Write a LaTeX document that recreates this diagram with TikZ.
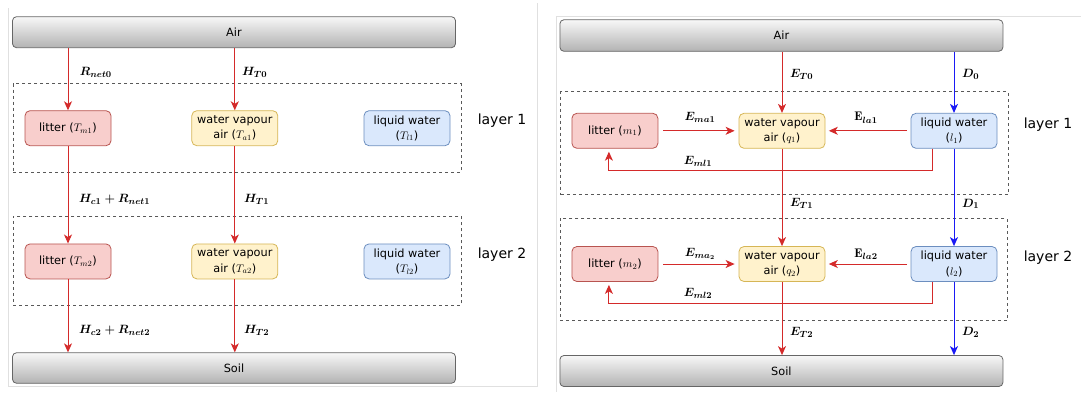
\documentclass[tikz,border=0pt]{standalone}
\usepackage{amsmath}
\usepackage{fontspec}
\usepackage{tikz}
\usetikzlibrary{arrows.meta}
\usetikzlibrary{positioning}
\newfontfamily\boxfont{DejaVu Sans}
\definecolor{litterfill}{HTML}{F8CECC}
\definecolor{litterline}{HTML}{B85450}
\definecolor{vapourfill}{HTML}{FFF2CC}
\definecolor{vapourline}{HTML}{D6B656}
\definecolor{liquidfill}{HTML}{DAE8FC}
\definecolor{liquidline}{HTML}{6C8EBF}
\definecolor{fluxred}{HTML}{D42A2A}
\definecolor{dripblue}{HTML}{1A1AF5}
\tikzstyle{cell}=[rectangle, rounded corners=5pt, line width=0.8pt, align=center, inner sep=0pt,
    minimum width=86pt, minimum height=35pt, font=\boxfont\fontsize{11.3}{15.2}\selectfont]
\tikzstyle{litterbox}=[cell, fill=litterfill, draw=litterline]
\tikzstyle{vapourbox}=[cell, fill=vapourfill, draw=vapourline]
\tikzstyle{liquidbox}=[cell, fill=liquidfill, draw=liquidline]
\tikzstyle{groundbox}=[rectangle, rounded corners=4pt, draw=black!60, line width=0.8pt,
    top color=black!3, bottom color=black!30, minimum width=443pt, minimum height=31pt,
    font=\boxfont\fontsize{11.3}{13}\selectfont]
\tikzstyle{layerbox}=[rectangle, draw=black!65, dash pattern=on 3pt off 3pt, line width=0.8pt]
\tikzstyle{layertag}=[font=\boxfont\fontsize{14}{16}\selectfont]
\tikzstyle{flux}=[draw=fluxred, line width=1pt, -{Stealth[length=9pt,width=8pt,inset=2.5pt]}]
\tikzstyle{drip}=[draw=dripblue, line width=1pt, -{Stealth[length=9pt,width=8pt,inset=2.5pt]}]
\tikzstyle{fluxlbl}=[inner sep=0pt, font=\fontsize{12.5}{12.5}\selectfont]
\tikzstyle{panelline}=[draw=black!12, line width=0.8pt]

\begin{document}
\begin{tikzpicture}[x=1pt,y=-1pt]
\useasboundingbox (0,0) rectangle (1081,392);
% panel frames
\draw[panelline] (8,8) -- (8,386) -- (537,386) -- (537,3);
\draw[panelline] (556.7,392) -- (556.7,16.6) -- (1081,16.6);
% heat budget (left)
\node[groundbox] (airL) at (234,32.2){Air};
\node[groundbox, minimum height=30.5pt] (soilL) at (234,368){Soil};
\node[layerbox, minimum width=448pt, minimum height=88.2pt] (layL1) at (237,127.9){};
\node[layerbox, minimum width=448pt, minimum height=89.3pt] (layL2) at (237,260.7){};
\node[layertag] (tagL1) at (502,121){layer 1};
\node[layertag] (tagL2) at (502,254.7){layer 2};
\node[litterbox] (lm1) at (68,128.2){litter ($T_{m1}$)};
\node[vapourbox] (la1) at (234.8,128.2){water vapour\\air ($T_{a1}$)};
\node[liquidbox] (ll1) at (407,128.2){liquid water\\($T_{l1}$)};
\node[litterbox] (lm2) at (68,261.4){litter ($T_{m2}$)};
\node[vapourbox] (la2) at (234.8,261.4){water vapour\\air ($T_{a2}$)};
\node[liquidbox] (ll2) at (407,261.4){liquid water\\($T_{l2}$)};
\draw[flux](airL.south -| lm1.north) -- (lm1.north);
\draw[flux](airL.south -| la1.north) -- (la1.north);
\draw[flux](lm1) -- (lm2);
\draw[flux](la1) -- (la2);
\draw[flux](lm2) -- (lm2 |- soilL.north);
\draw[flux](la2) -- (la2 |- soilL.north);
\node[fluxlbl, anchor=west] (hR0) at (79.6,72.7){$\boldsymbol{R_{net0}}$};
\node[fluxlbl, anchor=west] (hT0) at (242,72.7){$\boldsymbol{H_{T0}}$};
\node[fluxlbl, anchor=west] (hR1) at (79,199){$\boldsymbol{H_{c1}+R_{net1}}$};
\node[fluxlbl, anchor=west] (hT1) at (244,199){$\boldsymbol{H_{T1}}$};
\node[fluxlbl, anchor=west] (hR2) at (79,330){$\boldsymbol{H_{c2}+R_{net2}}$};
\node[fluxlbl, anchor=west] (hT2) at (244,330){$\boldsymbol{H_{T2}}$};
% water budget (right)
\node[groundbox, minimum height=31.5pt] (airR) at (781.4,35.5){Air};
\node[groundbox] (soilR) at (781.4,371){Soil};
\node[layerbox, minimum width=447.2pt, minimum height=102.8pt] (layR1) at (784.4,143.1){};
\node[layerbox, minimum width=447.3pt, minimum height=101.8pt] (layR2) at (783.7,269.6){};
\node[layertag] (tagR1) at (1048,124.6){layer 1};
\node[layertag] (tagR2) at (1048,257.5){layer 2};
\node[litterbox] (rm1) at (614.9,130.8){litter ($m_1$)};
\node[vapourbox] (rq1) at (782,130.8){water vapour\\air ($q_1$)};
\node[liquidbox] (rl1) at (954,130.8){liquid water\\($l_1$)};
\node[litterbox] (rm2) at (614.9,264){litter ($m_2$)};
\node[vapourbox] (rq2) at (782,264){water vapour\\air ($q_2$)};
\node[liquidbox] (rl2) at (954,264){liquid water\\($l_2$)};
\draw[flux](airR.south -| rq1.north) -- (rq1.north);
\draw[drip](airR.south -| rl1.north) -- (rl1.north);
\draw[flux, shorten <=5pt, shorten >=4pt](rm1) -- (rq1);
\draw[flux, shorten <=3.4pt, shorten >=3.4pt](rl1) -- (rq1);
\draw[flux, shorten >=3pt]([xshift=-22pt]rl1.south) -- ++(0,21.5) -| ([xshift=-6pt]rm1.south);
\draw[flux](rq1) -- (rq2);
\draw[drip](rl1) -- (rl2);
\draw[flux, shorten <=5pt, shorten >=4pt](rm2) -- (rq2);
\draw[flux, shorten <=3.4pt, shorten >=3.4pt](rl2) -- (rq2);
\draw[flux, shorten >=3pt]([xshift=-22pt]rl2.south) -- ++(0,21.5) -| ([xshift=-6pt]rm2.south);
\draw[flux](rq2) -- (rq2 |- soilR.north);
\draw[drip](rl2) -- (rl2 |- soilR.north);
\node[fluxlbl, anchor=west] (eT0) at (790,74.4){$\boldsymbol{E_{T0}}$};
\node[fluxlbl, anchor=west] (d0) at (962,74.4){$\boldsymbol{D_{0}}$};
\node[fluxlbl] (eMA1) at (700,117.7){$\boldsymbol{E_{ma1}}$};
\node[fluxlbl] (eLA1) at (866,117.7){$\mathbf{E}_{\boldsymbol{la1}}$};
\node[fluxlbl] (eML1) at (698,161){$\boldsymbol{E_{ml1}}$};
\node[fluxlbl, anchor=west] (eT1) at (790,203.8){$\boldsymbol{E_{T1}}$};
\node[fluxlbl, anchor=west] (d1) at (962,203.8){$\boldsymbol{D_{1}}$};
\node[fluxlbl] (eMA2) at (700,254){$\boldsymbol{E_{ma_2}}$};
\node[fluxlbl] (eLA2) at (866,254){$\mathbf{E}_{\boldsymbol{la2}}$};
\node[fluxlbl] (eML2) at (698,293){$\boldsymbol{E_{ml2}}$};
\node[fluxlbl, anchor=west] (eT2) at (790,332.6){$\boldsymbol{E_{T2}}$};
\node[fluxlbl, anchor=west] (d2) at (962,332.6){$\boldsymbol{D_{2}}$};
\end{tikzpicture}
\end{document}
